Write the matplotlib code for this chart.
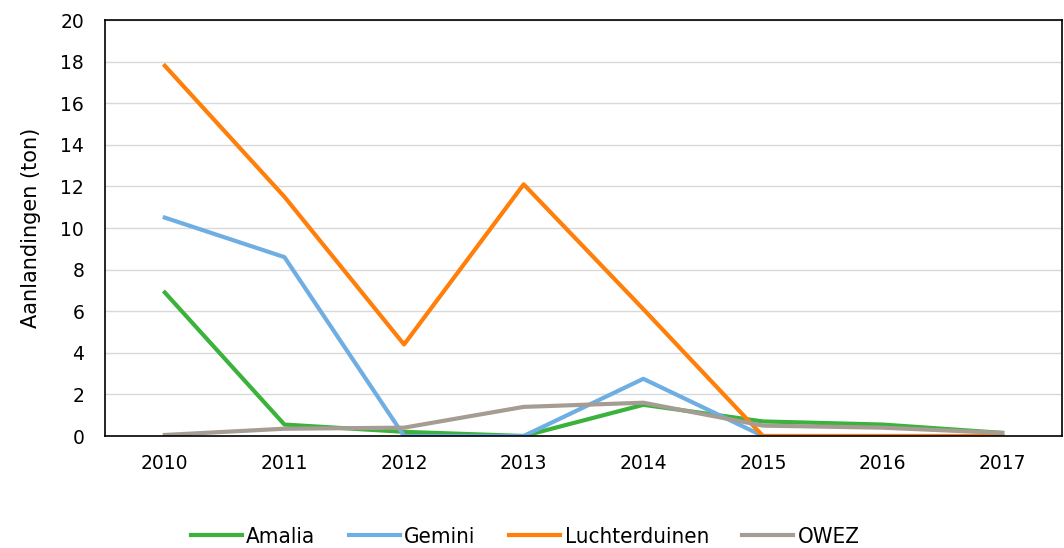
import matplotlib
matplotlib.use("Agg")
from matplotlib import pyplot as plt

years = ["2010", "2011", "2012", "2013", "2014", "2015", "2016", "2017"]
amalia = [6.9, 0.55, 0.2, 0.0, 1.5, 0.7, 0.55, 0.15]
gemini = [10.5, 8.6, 0.0, 0.0, 2.75, 0.0, 0.0, 0.0]
luchterduinen = [17.8, 11.5, 4.4, 12.1, 6.1, 0.0, 0.0, 0.0]
owez = [0.05, 0.35, 0.4, 1.4, 1.6, 0.5, 0.4, 0.15]

plt.rcParams['font.family'] = ['DejaVu Sans']

fig = plt.figure(figsize=(10.64, 5.48), dpi=100)
ax = fig.add_axes([105/1064, 112/548, 957/1064, 416/548])

x = range(len(years))
lw = 3.0
ax.plot(x, amalia, color="#3bb23b", lw=lw, label="Amalia")
ax.plot(x, gemini, color="#6eaee3", lw=lw, label="Gemini")
ax.plot(x, luchterduinen, color="#ff7f0a", lw=lw, label="Luchterduinen")
ax.plot(x, owez, color="#a59c94", lw=lw, label="OWEZ")

ax.set_xlim(-0.5, len(years) - 0.5)
ax.set_ylim(0, 20)
ax.set_yticks(range(0, 21, 2))
ax.set_xticks(list(x))
ax.set_xticklabels(years)
ax.tick_params(length=0, labelsize=13.5)
ax.tick_params(axis='y', pad=15)
ax.tick_params(axis='x', pad=13)
ax.yaxis.grid(True, color="#d9d9d9", lw=1)
ax.set_axisbelow(True)
for s in ax.spines.values():
    s.set_color("black")
    s.set_linewidth(1.2)

ax.set_ylabel("Aanlandingen (ton)", fontsize=15, labelpad=14)

ax.legend(loc="center", bbox_to_anchor=(0.439, -0.243), ncol=4, frameon=False,
          prop={'family': 'DejaVu Sans', 'stretch': 'condensed', 'size': 16},
          handlelength=2.3, handletextpad=0.2, columnspacing=1.5)

fig.savefig("out.png", dpi=100)
